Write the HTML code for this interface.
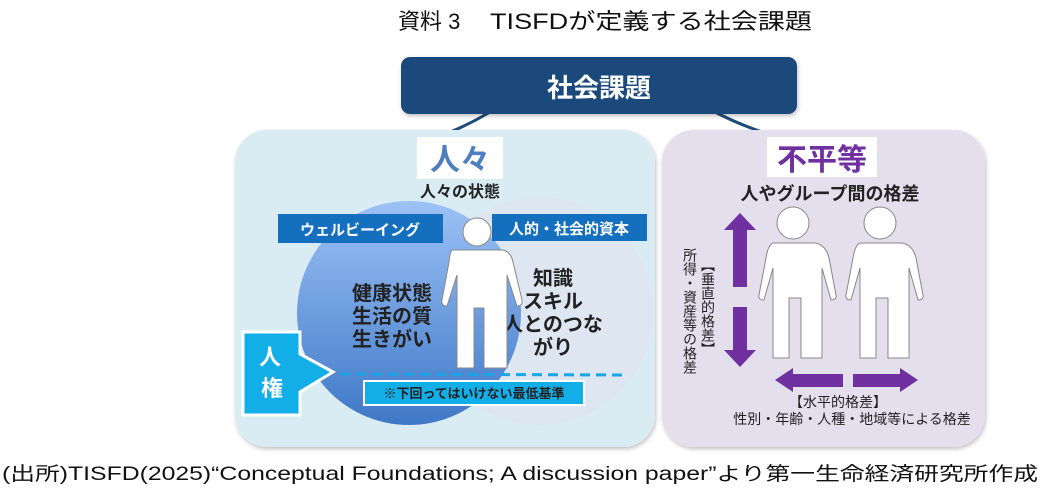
<!DOCTYPE html>
<html><head><meta charset="utf-8"><style>
html,body{margin:0;padding:0;background:#fff;width:1043px;height:491px;overflow:hidden}
svg{display:block}
text{font-family:"Liberation Sans","Noto Sans CJK JP",sans-serif}
</style></head><body>
<svg width="1043" height="491" viewBox="0 0 1043 491" xmlns="http://www.w3.org/2000/svg">
<defs>
<linearGradient id="bg1" x1="0" y1="0" x2="0" y2="1"><stop offset="0" stop-color="#9cc2f5"/><stop offset="1" stop-color="#3f78c8"/></linearGradient>
<filter id="sh" x="-10%" y="-10%" width="120%" height="120%"><feDropShadow dx="1" dy="2" stdDeviation="2" flood-color="#000" flood-opacity="0.25"/></filter>
</defs>
<text x="398" y="29" font-size="22" fill="#111">資料 3</text>
<text x="490" y="29" font-size="22" fill="#111" textLength="322" lengthAdjust="spacingAndGlyphs">TISFDが定義する社会課題</text>
<path d="M490 112 Q470 124 448 133" stroke="#1f4a7c" stroke-width="3" fill="none"/>
<path d="M715 112 Q738 124 765 133" stroke="#1f4a7c" stroke-width="3" fill="none"/>
<rect x="401" y="57" width="396" height="57" rx="9" fill="#1f4a7c" filter="url(#sh)"/>
<text x="599" y="97" font-size="26" font-weight="bold" fill="#fff" text-anchor="middle">社会課題</text>
<rect x="235" y="130" width="420" height="317" rx="32" fill="#daecf3" filter="url(#sh)"/>
<rect x="417" y="137" width="86" height="42" fill="#fff"/>
<text x="460" y="170" font-size="30" font-weight="bold" fill="#4f7ec0" text-anchor="middle">人々</text>
<text x="460" y="197" font-size="16" font-weight="bold" fill="#222" text-anchor="middle">人々の状態</text>
<circle cx="539" cy="311" r="114" fill="#dde6f1"/>
<circle cx="409" cy="313" r="112" fill="url(#bg1)"/>
<rect x="278" y="214" width="165" height="29" fill="#1470bf"/>
<text x="360" y="235" font-size="15" font-weight="bold" fill="#fff" text-anchor="middle">ウェルビーイング</text>
<rect x="492" y="214" width="155" height="27" fill="#1470bf"/>
<text x="569" y="234" font-size="15" font-weight="bold" fill="#fff" text-anchor="middle">人的・社会的資本</text>
<g font-size="20" font-weight="bold" fill="#222">
<text x="352" y="300">健康状態</text><text x="352" y="323">生活の質</text><text x="352" y="346">生きがい</text>
</g>
<g font-size="20" font-weight="bold" fill="#222" text-anchor="middle">
<text x="553" y="285">知識</text><text x="553" y="308">スキル</text><text x="553" y="331">人とのつな</text><text x="553" y="354">がり</text>
</g>
<g fill="#fff" stroke="#888" stroke-width="1">
<circle cx="477" cy="232" r="14"/>
<path d="M452 250 H503 Q511 252 513 262 L522 300 Q523 306 517 306 L507 275 V368 H484 V308 H474 V368 H457 V275 L447 306 Q441 306 442 300 L449 262 Q450 252 452 250 Z"/>
</g>
<line x1="340" y1="374" x2="625" y2="375" stroke="#1aa5e6" stroke-width="3" stroke-dasharray="10,6"/>
<path d="M243 332 H300 V354 L333 372 L300 392 V415 H243 Z" fill="#12aee8" stroke="#fff" stroke-width="3"/>
<text x="270" y="365" font-size="22" font-weight="bold" fill="#fff" text-anchor="middle">人</text>
<text x="272" y="396" font-size="22" font-weight="bold" fill="#fff" text-anchor="middle">権</text>
<rect x="364" y="381" width="220" height="24" fill="#12aee8" stroke="#fff" stroke-width="2"/>
<text x="474" y="398" font-size="13" font-weight="bold" fill="#222" text-anchor="middle">※下回ってはいけない最低基準</text>
<rect x="662" y="130" width="323" height="317" rx="32" fill="#e3dfec" filter="url(#sh)"/>
<rect x="767" y="137" width="110" height="40" fill="#fff"/>
<text x="822" y="170" font-size="30" font-weight="bold" fill="#7030a0" text-anchor="middle">不平等</text>
<text x="830" y="200" font-size="18" font-weight="bold" fill="#222" text-anchor="middle">人やグループ間の格差</text>
<g fill="#7030a0">
<path d="M740 213 L756 230 H747 V287 H733 V230 H724 Z"/>
<path d="M740 367 L756 350 H747 V307 H733 V350 H724 Z"/>
<path d="M775 380 L793 368 V374 H843 V387 H793 V392 Z"/>
<path d="M918 380 L900 368 V374 H853 V387 H900 V392 Z"/>
</g>
<g font-size="14" fill="#222">
<text x="690" y="248" style="writing-mode:vertical-rl">所得・資産等の格差</text>
<text x="708" y="258" style="writing-mode:vertical-rl">【垂直的格差】</text>
<text x="838" y="407" text-anchor="middle">【水平的格差】</text>
<text x="852" y="424" text-anchor="middle">性別・年齢・人種・地域等による格差</text>
</g>
<g fill="#fff" stroke="#888" stroke-width="1">
<circle cx="793" cy="223" r="16"/>
<path d="M773 243 H815 Q826 245 829 258 L836 295 Q837 300 831 300 L822 268 V358 H801 V298 H789 V358 H773 V268 L764 300 Q758 300 759 295 L766 258 Q768 245 773 243 Z"/>
<circle cx="880" cy="223" r="16"/>
<path d="M860 243 H902 Q913 245 916 258 L923 295 Q924 300 918 300 L909 268 V358 H888 V298 H876 V358 H860 V268 L851 300 Q845 300 846 295 L853 258 Q855 245 860 243 Z"/>
</g>
<text x="2" y="480" font-size="19" fill="#111" textLength="1036" lengthAdjust="spacingAndGlyphs">(出所)TISFD(2025)“Conceptual Foundations; A discussion paper”より第一生命経済研究所作成</text>
</svg>
</body></html>
